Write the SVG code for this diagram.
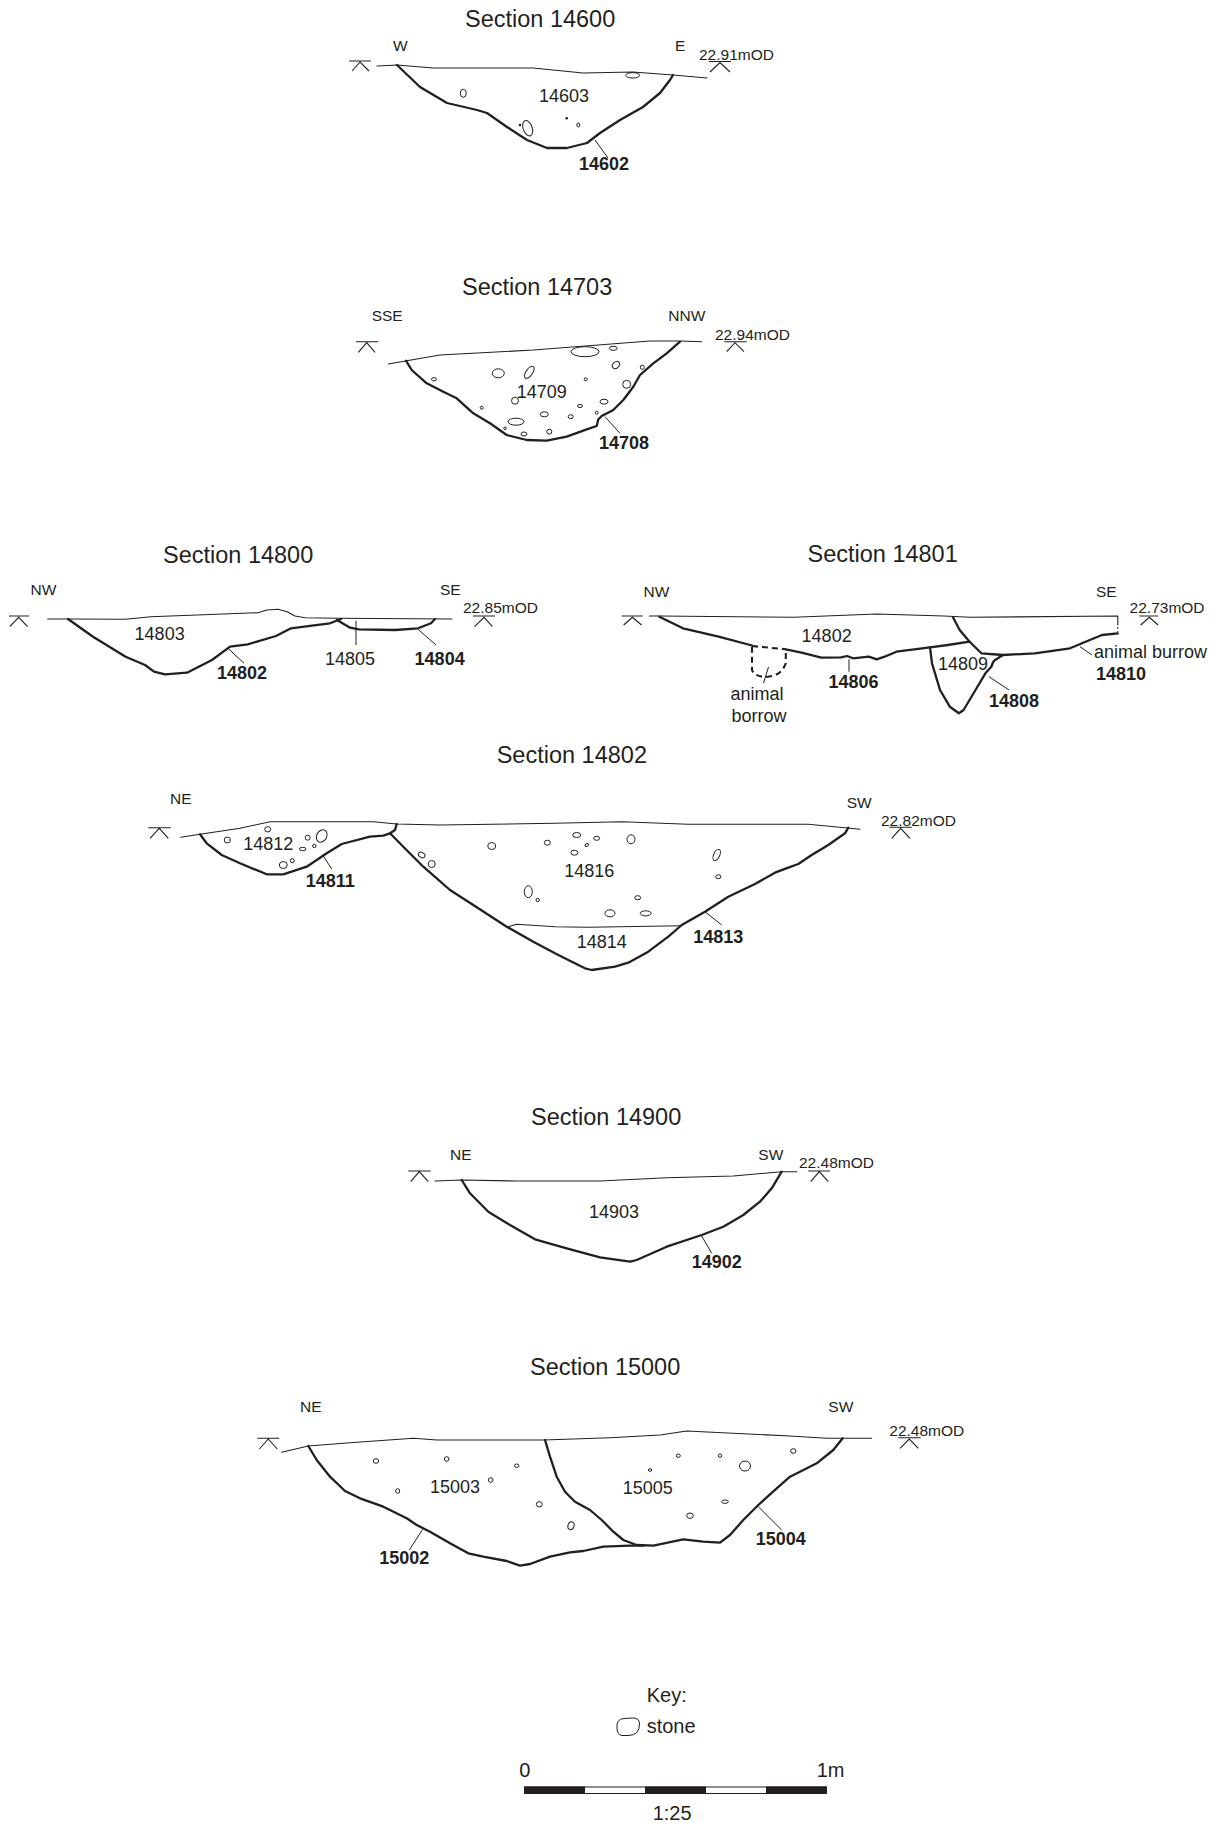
<svg xmlns="http://www.w3.org/2000/svg" width="1216" height="1827" viewBox="0 0 1216 1827">
<style>
text{font-family:"Liberation Sans",Arial,Helvetica,sans-serif;fill:#231f20}
.t{font-size:23.5px}
.lab{font-size:18px}
.b{font-size:18px;font-weight:bold}
.dir{font-size:15.5px}
.k{font-size:20px}
.g{fill:none;stroke:#231f20;stroke-width:1.1;stroke-linejoin:round;stroke-linecap:round}
.c{fill:none;stroke:#231f20;stroke-width:2.3;stroke-linejoin:round;stroke-linecap:round}
.cd{fill:none;stroke:#231f20;stroke-width:2.1;stroke-dasharray:6 4}
.l{fill:none;stroke:#231f20;stroke-width:1}
.d{fill:none;stroke:#231f20;stroke-width:1.1}
.s{fill:none;stroke:#231f20;stroke-width:1}
.dot{fill:#231f20}
</style>
<rect width="1216" height="1827" fill="#fff"/>

<g id="section-14600">
<text class="t" x="465" y="27">Section 14600</text>
<text class="dir" x="393" y="51">W</text>
<text class="dir" x="675" y="51">E</text>
<text class="dir" x="699" y="60">22.91mOD</text>
<path class="d" d="M349,61H371M352,71L360,62L369,71"/>
<path class="d" d="M709,61.5H731M710,72L720,62.5L730,72"/>
<path class="g" d="M377,66L397,65L433,68L533,68L583,73L633,72L673,75L707,78"/>
<path class="c" d="M397,65L420,87L447,103L477,110L487,113L507,127L527,140L547,148L567,148L587,143L600,133L620,120L643,107L660,93L670,80L673,75"/>
<ellipse class="s" cx="463.3" cy="93.3" rx="3" ry="4"/>
<ellipse class="s" cx="632.7" cy="75.3" rx="7" ry="2.7"/>
<ellipse class="s" cx="527.7" cy="128.3" rx="4.5" ry="8" transform="rotate(-20 527.7 128.3)"/>
<circle class="dot" cx="520" cy="125" r="1.3"/>
<circle class="dot" cx="566.7" cy="118.3" r="1.3"/>
<ellipse class="s" cx="578.3" cy="125" rx="1.5" ry="2"/>
<text class="lab" x="539" y="102">14603</text>
<text class="b" x="579" y="170">14602</text>
</g>

<g id="section-14703">
<text class="t" x="462" y="295">Section 14703</text>
<text class="dir" x="371.7" y="320.7">SSE</text>
<text class="dir" x="668.3" y="320.7">NNW</text>
<text class="dir" x="715" y="340">22.94mOD</text>
<path class="d" d="M356,341.7H378.3M358.3,352.3L366.7,342.7L375,352.3"/>
<path class="d" d="M724.3,341.7H746.7M726.7,351.7L735,342.7L744,351.7"/>
<path class="g" d="M388.3,364L406.7,360.7L440,355L533.3,350L650,341L680,341L701.7,341.7"/>
<path class="c" d="M406,360.7L411.7,370L426.7,383.3L443.3,391.7L456.7,398.3L473.3,413.3L490,423.3L506.7,435L526.7,440L546.7,440.7L566.7,436.7L586.7,429.3L596.7,426L598.3,419.3L601.7,416L613.3,410L623.3,400L633.3,386.7L640,375L653.3,363.3L666.7,353.3L680,341.7"/>
<ellipse class="s" cx="585" cy="351.7" rx="14" ry="5"/>
<ellipse class="s" cx="613.3" cy="348.3" rx="4" ry="2"/>
<ellipse class="s" cx="498.3" cy="373.3" rx="6" ry="4.5"/>
<ellipse class="s" cx="529.3" cy="372.3" rx="7" ry="3.3" transform="rotate(-55 529.3 372.3)"/>
<ellipse class="s" cx="616" cy="365" rx="4" ry="3" transform="rotate(-40 616 365)"/>
<ellipse class="s" cx="642.3" cy="367.3" rx="2" ry="2"/>
<ellipse class="s" cx="434" cy="379.3" rx="2.5" ry="1.7"/>
<ellipse class="s" cx="585.7" cy="379.3" rx="1.5" ry="1.5"/>
<ellipse class="s" cx="626.7" cy="384.3" rx="4" ry="4"/>
<ellipse class="s" cx="515" cy="400.7" rx="3.5" ry="3.5"/>
<ellipse class="s" cx="604" cy="401.7" rx="4" ry="2.5"/>
<ellipse class="s" cx="481.7" cy="407.7" rx="1.5" ry="1.5"/>
<ellipse class="s" cx="580" cy="406" rx="2.5" ry="1.5"/>
<ellipse class="s" cx="544.3" cy="414.3" rx="4" ry="2.5"/>
<ellipse class="s" cx="570.7" cy="416.7" rx="2.5" ry="2"/>
<ellipse class="s" cx="596.7" cy="412.7" rx="1.5" ry="1.5"/>
<ellipse class="s" cx="516" cy="421.7" rx="8" ry="3.5"/>
<ellipse class="s" cx="505" cy="428.3" rx="1.3" ry="1.3"/>
<ellipse class="s" cx="524" cy="434" rx="3" ry="2"/>
<ellipse class="s" cx="549.3" cy="431.7" rx="2.5" ry="2.5"/>
<text class="lab" x="516.7" y="397.7">14709</text>
<text class="b" x="599" y="449.3">14708</text>
</g>

<g id="section-14800">
<text class="t" x="163" y="563">Section 14800</text>
<text class="dir" x="30.5" y="595">NW</text>
<text class="dir" x="440" y="595">SE</text>
<text class="dir" x="463" y="613">22.85mOD</text>
<path class="d" d="M9,616H29M9.7,626.7L18.7,617.3L27.6,626.7"/>
<path class="d" d="M473,616H495M474.5,626.7L484,617.3L492.5,626.7"/>
<path class="g" d="M47.7,619L68,619L125.6,619.3L150.8,616.7L258,612.7L267,610L278,609.3L287,611.7L295,616L305,617.7L337,618.3L452,619"/>
<path class="c" d="M68,619L93,636.7L125.6,656.7L145,665L154,671.7L165,674.3L187,672.7L212,660L230,646.7L247.7,644.3L276,636L291,628.3L312,625.7L330,623.3L341,619"/>
<path class="c" d="M337,620L350,627.7L359,629.3L395,630L418,628.3L431,623.3L435,619"/>
<text class="lab" x="134.6" y="640">14803</text>
<text class="b" x="217" y="679">14802</text>
<text class="lab" x="325" y="665">14805</text>
<text class="b" x="414.6" y="665">14804</text>
</g>

<g id="section-14801">
<text class="t" x="807.5" y="561.7">Section 14801</text>
<text class="dir" x="643.5" y="596.7">NW</text>
<text class="dir" x="1096" y="596.7">SE</text>
<text class="dir" x="1129.6" y="613.3">22.73mOD</text>
<path class="d" d="M621.7,616H642.7M623.7,625L632.4,617.3L641.5,625"/>
<path class="d" d="M1139.5,616H1158M1140.7,625L1149.4,617.3L1158,625"/>
<path class="g" d="M649.4,616L659.3,616L793.7,617.3L876.7,614L943.9,616L969.6,617.3L1117.8,616L1117.8,625"/>
<path class="l" d="M1117.8,627V632" stroke-dasharray="2 2"/>
<path class="c" d="M659.3,616.7L683,628.3L718.6,636.7L752,645.5"/>
<path class="cd" d="M752,646L785.8,649.3"/>
<path class="c" d="M785.8,649.3L801.6,652.7L821.3,657.7L841,657.3L847,656L853,658.3L868.8,656.7L876.7,659.3L884.6,656.7L896.4,651.7L930,647.3L947.8,645L969.6,641.7"/>
<path class="cd" d="M752,646.7L752,670Q754,676.5 766,677Q782,676 785.8,663L785.8,649.3"/>
<path class="c" d="M953,617.3L959.7,630L969.6,641.7L981.4,653.3L1003,655L1034.8,653.3L1070,648.3L1082,643.3L1102,635L1117.8,633.3"/>
<path class="c" d="M930,647.3L932,663.3L940,690L949.8,706.7L958.9,713.3L963.6,710L975.5,690L985.4,673.3L991.3,666.7L993.3,661.7L995,660L1003,655"/>
<text class="lab" x="801.6" y="641.7">14802</text>
<text class="b" x="828.5" y="688.3">14806</text>
<text class="lab" x="938" y="670">14809</text>
<text class="b" x="989" y="706.7">14808</text>
<text class="lab" x="1094" y="658.3">animal burrow</text>
<text class="b" x="1096" y="680">14810</text>
<text class="lab" x="730.4" y="700">animal</text>
<text class="lab" x="731.6" y="721.7">borrow</text>
</g>

<g id="section-14802">
<text class="t" x="496.7" y="763.3">Section 14802</text>
<text class="dir" x="170" y="804">NE</text>
<text class="dir" x="846.7" y="808.3">SW</text>
<text class="dir" x="881" y="826">22.82mOD</text>
<path class="d" d="M148.3,827.7H170.7M150,838.3L159.3,828.3L168.3,838.3"/>
<path class="d" d="M889.3,827.3H911.7M891.7,838.3L900.7,828.3L910,838.3"/>
<path class="g" d="M180.7,837.3L200,834.3L240,828.3L270,821.7L373.3,821.7L396.7,824L440,825L555,823.3L621.7,821.7L688.3,824.3L808.3,824.3L845,827.7L860,829.3"/>
<path class="c" d="M200,834.3L206.7,843.3L221.7,855L240,863.3L266.7,874.3L283.3,874.3L306.7,866.7L326.7,853.3L341.7,844L370,836.7L383.3,835.7L390,833.3L395,830L396.7,824"/>
<path class="c" d="M390,833.3L403.3,846.7L423.3,866.7L450,890L473.3,905L506.7,926.7L533.3,941.7L555,953.3L568.3,960L585,968.3L591.7,970L615,966.7L628.3,962.7L648.3,951.7L668.3,936.7L681.7,925L705,911.7L728.3,896.7L755,884L775,872.7L788.3,867.7L798.3,864L811.7,855L828.3,845L845,833.3L848.3,827.7"/>
<path class="g" d="M508.3,926.7L516.7,924.3L555,926.7L588.3,927.3L681.7,925.7"/>
<ellipse class="s" cx="267.7" cy="829.3" rx="3" ry="2.7"/>
<rect class="s" x="224.6" y="837.3" width="5.4" height="5.4" rx="1.5"/>
<ellipse class="s" cx="321.7" cy="836" rx="5" ry="6.5" transform="rotate(30 321.7 836)"/>
<ellipse class="s" cx="307.7" cy="837.7" rx="2.5" ry="2.5"/>
<ellipse class="s" cx="314.3" cy="846" rx="1.7" ry="1.7"/>
<ellipse class="s" cx="302.7" cy="849" rx="3.3" ry="1.7"/>
<ellipse class="s" cx="283.3" cy="865" rx="4" ry="3.5"/>
<ellipse class="s" cx="292.3" cy="860.7" rx="2" ry="2"/>
<ellipse class="s" cx="421.7" cy="855" rx="3.5" ry="2.5" transform="rotate(30 421.7 855)"/>
<ellipse class="s" cx="431.7" cy="864" rx="3.5" ry="3.5"/>
<ellipse class="s" cx="491.7" cy="846" rx="4" ry="3.5"/>
<ellipse class="s" cx="547.3" cy="842.7" rx="3" ry="2.5"/>
<ellipse class="s" cx="528.3" cy="891.7" rx="4" ry="6"/>
<ellipse class="s" cx="537.7" cy="900" rx="1.7" ry="1.7"/>
<ellipse class="s" cx="576.7" cy="835" rx="4" ry="2.5"/>
<ellipse class="s" cx="596.7" cy="838.3" rx="3" ry="2"/>
<ellipse class="s" cx="586.7" cy="845" rx="1.8" ry="1.3" transform="rotate(-30 586.7 845)"/>
<ellipse class="s" cx="574.3" cy="852.7" rx="3.5" ry="2.5"/>
<ellipse class="s" cx="631" cy="839.3" rx="4" ry="4.5"/>
<ellipse class="s" cx="716.7" cy="855" rx="3" ry="6" transform="rotate(25 716.7 855)"/>
<ellipse class="s" cx="718.3" cy="876.7" rx="2.5" ry="2"/>
<ellipse class="s" cx="637.7" cy="897.7" rx="3" ry="2"/>
<ellipse class="s" cx="610" cy="913.3" rx="5" ry="3.5"/>
<ellipse class="s" cx="645.7" cy="913.3" rx="5.5" ry="2.5"/>
<text class="lab" x="243.3" y="850">14812</text>
<text class="b" x="305.7" y="886.7">14811</text>
<text class="lab" x="564.3" y="876.7">14816</text>
<text class="lab" x="576.7" y="948.3">14814</text>
<text class="b" x="693.3" y="942.7">14813</text>
</g>

<g id="section-14900">
<text class="t" x="531" y="1125">Section 14900</text>
<text class="dir" x="450" y="1160">NE</text>
<text class="dir" x="758.3" y="1160">SW</text>
<text class="dir" x="799" y="1168.3">22.48mOD</text>
<path class="d" d="M408.3,1171H430.7M410.7,1181.7L419.3,1171.7L428.3,1181.7"/>
<path class="d" d="M808.3,1171H830M810.7,1181.7L819.3,1171.7L828.3,1181.7"/>
<path class="g" d="M435,1181L461.7,1180L516.7,1181L600,1181L666.7,1177.7L733.3,1176L781.7,1171.7L796.7,1171.7"/>
<path class="c" d="M461.7,1180L470,1193.3L488.3,1211.7L510,1225L535,1239.3L566.7,1248.3L600,1257.3L630,1261.7L636.7,1260L666.7,1246.7L701.7,1235L723.3,1226.7L743.3,1215L760,1201.7L771.7,1188.3L781.7,1171.7"/>
<text class="lab" x="589" y="1218.3">14903</text>
<text class="b" x="691.7" y="1268.3">14902</text>
</g>

<g id="section-15000">
<text class="t" x="530" y="1375">Section 15000</text>
<text class="dir" x="300" y="1411.7">NE</text>
<text class="dir" x="828.3" y="1411.7">SW</text>
<text class="dir" x="889.3" y="1436">22.48mOD</text>
<path class="d" d="M257.3,1438.3H279.3M259.3,1449L268.3,1439L277.3,1449"/>
<path class="d" d="M898.3,1437.7H920.7M900,1448.3L909.3,1439L918.3,1448.3"/>
<path class="g" d="M281.7,1452.3L308.3,1446L350,1442.7L413.3,1438.3L436.7,1440L543.3,1440L610,1437.7L660,1435L686.7,1431L790,1436L826.7,1438.3L871.7,1438.3"/>
<path class="c" d="M308.3,1446L316.7,1460L330,1476.7L345,1491L360,1498.3L383.3,1506.7L406.7,1518.3L416.7,1525L430,1531.7L450,1543.3L468.3,1553.3L483.3,1556.7L506.7,1561L520,1565.7L530,1564L550,1556.7L570,1552.3L583.3,1551L603.3,1546.7L630,1545.7L643.3,1545.7"/>
<path class="c" d="M545,1440L550,1456.7L556.7,1476.7L565,1491.7L575,1501.7L590,1510L601.7,1520L613.3,1531.7L623.3,1540L636.7,1545L653.3,1545.7L683.3,1539.3L703.3,1541.7L720,1542.7L730,1535L743.3,1520L758.3,1505L776.7,1488.3L790,1476.7L800,1471.7L816.7,1463.3L833.3,1450L842.7,1438.3"/>
<ellipse class="s" cx="376" cy="1461" rx="2.7" ry="2.3"/>
<ellipse class="s" cx="446.7" cy="1459" rx="2.3" ry="2.3"/>
<ellipse class="s" cx="516.7" cy="1465.7" rx="2.3" ry="1.7"/>
<ellipse class="s" cx="490.7" cy="1480" rx="2.3" ry="2.3"/>
<ellipse class="s" cx="397.7" cy="1491" rx="2" ry="2.3"/>
<ellipse class="s" cx="539.3" cy="1504.3" rx="3" ry="2.7"/>
<ellipse class="s" cx="571" cy="1525.7" rx="3" ry="4" transform="rotate(20 571 1525.7)"/>
<ellipse class="s" cx="678.3" cy="1455.7" rx="2" ry="1.7"/>
<ellipse class="s" cx="720" cy="1455.7" rx="1.7" ry="1.7"/>
<ellipse class="s" cx="650" cy="1470" rx="1.7" ry="1.3"/>
<ellipse class="s" cx="745" cy="1466" rx="5.5" ry="5"/>
<ellipse class="s" cx="793.3" cy="1451" rx="2.7" ry="2.3"/>
<ellipse class="s" cx="725" cy="1501.7" rx="3.3" ry="1.7"/>
<ellipse class="s" cx="690" cy="1515.7" rx="3.3" ry="2.7"/>
<text class="lab" x="430" y="1493.3">15003</text>
<text class="lab" x="622.7" y="1494">15005</text>
<text class="b" x="379.3" y="1564">15002</text>
<text class="b" x="755.7" y="1545">15004</text>
</g>

<g id="key">
<text class="k" x="646.7" y="1701.7">Key:</text>
<path class="s" d="M617,1728Q616,1719 624,1718.5L633,1718Q639.5,1718 639.5,1724Q639.5,1735 629,1735.5L622,1735.5Q617,1735 617,1728Z"/>
<text class="k" x="646.7" y="1733.3">stone</text>
</g>

<g id="scale-bar">
<text class="k" x="519.3" y="1776.7">0</text>
<text class="k" x="816.7" y="1776.7">1m</text>
<rect x="524.5" y="1787" width="302" height="6.5" fill="#fff" stroke="#231f20" stroke-width="1"/>
<rect x="524" y="1786.5" width="61" height="7.5" fill="#231f20"/>
<rect x="645" y="1786.5" width="61" height="7.5" fill="#231f20"/>
<rect x="766" y="1786.5" width="61" height="7.5" fill="#231f20"/>
<text class="k" x="652.7" y="1820">1:25</text>
</g>

<g id="connectors">
<path class="l" d="M595,140L608,158"/>
<path class="l" d="M605,416.7L620,433.3"/>
<path class="l" d="M356,620.7V645"/>
<path class="l" d="M418,629.3L436,645"/>
<path class="l" d="M228,648.3L244,663.3"/>
<path class="l" d="M849,659.3V671.7"/>
<path class="l" d="M989,676.7L1009,690"/>
<path class="l" d="M1080,646.7L1092,655"/>
<path class="l" d="M768.5,667L763.5,683"/>
<path class="l" d="M322.7,855L331.7,869"/>
<path class="l" d="M705,911.7L721.7,925"/>
<path class="l" d="M701.7,1236L711.7,1253.3"/>
<path class="l" d="M422.7,1529.3L409.3,1550"/>
<path class="l" d="M758.3,1506.7L781.7,1530"/>
</g>
</svg>
